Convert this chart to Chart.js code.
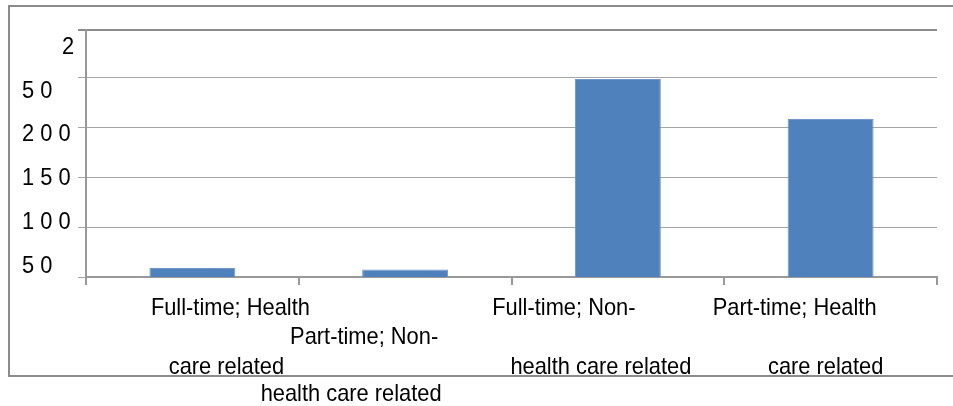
<!DOCTYPE html>
<html>
<head>
<meta charset="utf-8">
<script src="https://cdn.jsdelivr.net/npm/chart.js@4.4.1/dist/chart.umd.min.js"></script>
<style>
  html, body { margin: 0; padding: 0; background: #fff; }
  #wrap { width: 953px; height: 406px; position: relative; }
</style>
</head>
<body>
<div id="wrap"><canvas id="c" width="953" height="406"></canvas></div>
<script>
// ---- data ----
const categories = [
  ["Full-time; Health", "care related"],
  ["Part-time; Non-", "health care related"],
  ["Full-time; Non-", "health care related"],
  ["Part-time; Health", "care related"]
];
const values = [59, 57.5, 248, 208];
const yTickLabels = ["2", "5 0", "2 0 0", "1 5 0", "1 0 0", "5 0"];

// ---- layout / style (not data) ----
const FONT = '24px "Liberation Sans", Arial, sans-serif';
const XSCALE = 0.91;
const catRows = [[0, 2], [1, 3], [0, 2], [0, 2]];
const catOffsets = [[38, 34], [-41, -54], [-54, -17], [-36, -5]];
const rowBaselines = [315, 343.5, 373.5, 401];

function drawText(ctx, text, x, y, align) {
  ctx.save();
  ctx.translate(x, y);
  ctx.scale(XSCALE, 1);
  ctx.textAlign = align;
  ctx.textBaseline = 'alphabetic';
  ctx.fillText(text, 0, 0);
  ctx.restore();
}

const decor = {
  id: 'decor',
  beforeDraw(chart) {
    const ctx = chart.ctx;
    ctx.save();
    ctx.fillStyle = '#fff';
    ctx.fillRect(0, 0, chart.width, chart.height);
    ctx.strokeStyle = '#8c8c8c';
    ctx.lineWidth = 2;
    ctx.strokeRect(9, 6, 960, 370);
    ctx.restore();
  },
  afterDraw(chart) {
    const ctx = chart.ctx;
    ctx.save();
    ctx.fillStyle = '#000';
    ctx.font = FONT;
    // y labels (as laid out in the reference)
    yTickLabels.forEach((t, i) => {
      const x = i === 0 ? 62 : 22;
      drawText(ctx, t, x, 54 + i * 43.7, 'left');
    });
    // category labels
    const xs = chart.scales.x;
    categories.forEach((lines, i) => {
      const cx = xs.getPixelForValue(i);
      lines.forEach((ln, j) => {
        drawText(ctx, ln, cx + catOffsets[i][j], rowBaselines[catRows[i][j]], 'center');
      });
    });
    ctx.restore();
  }
};

new Chart(document.getElementById('c'), {
  type: 'bar',
  data: {
    labels: categories.map(c => c.join(' ')),
    datasets: [{
      data: values,
      backgroundColor: '#4f81bd',
      borderColor: '#6f97c9',
      borderWidth: 1,
      categoryPercentage: 1,
      barPercentage: 0.404
    }]
  },
  options: {
    responsive: false,
    animation: false,
    layout: { padding: { left: 78, top: 30, right: 16, bottom: 121 } },
    plugins: { legend: { display: false }, tooltip: { enabled: false } },
    scales: {
      x: {
        offset: true,
        grid: {
          offset: true,
          drawOnChartArea: false,
          drawTicks: true,
          tickLength: 8,
          color: '#999',
          lineWidth: 2
        },
        border: { display: true, color: '#999', width: 2 },
        ticks: { display: false }
      },
      y: {
        min: 50,
        max: 297,
        ticks: { display: false, stepSize: 50 },
        grid: {
          tickLength: 8,
          color: ctx => (ctx.tick && ctx.tick.value === 297) ? '#8c8c8c' : '#a6a6a6',
          lineWidth: ctx => (ctx.tick && ctx.tick.value === 297) ? 2 : 1
        },
        border: { display: true, color: '#999', width: 2 }
      }
    }
  },
  plugins: [decor]
});
</script>
</body>
</html>
